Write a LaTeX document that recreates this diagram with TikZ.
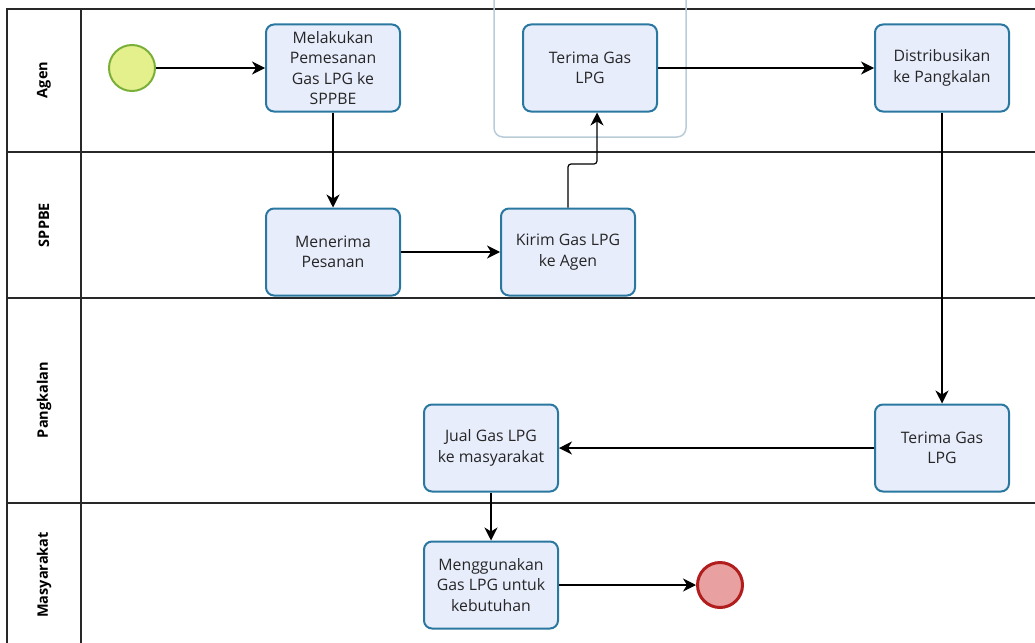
\documentclass[tikz,border=0pt]{standalone}
\usepackage{fontspec}
\setmainfont{Open Sans}
\usetikzlibrary{arrows.meta,positioning}
\definecolor{taskfill}{RGB}{232,237,252}
\definecolor{taskline}{RGB}{42,120,160}
\definecolor{startfill}{RGB}{228,240,140}
\definecolor{startline}{RGB}{122,176,58}
\definecolor{endfill}{RGB}{232,160,160}
\definecolor{endline}{RGB}{178,30,30}
\definecolor{groupline}{RGB}{186,204,216}
\definecolor{poolline}{RGB}{40,40,40}

\begin{document}
\begin{tikzpicture}[x=1pt,y=-1pt,
  task/.style={draw=taskline, fill=taskfill, line width=2pt, rounded corners=8pt,
    minimum width=134pt, minimum height=87pt, inner sep=0pt, align=center,
    font=\fontsize{15.8}{20.5}\selectfont, text=black!85},
  lane/.style={rotate=90, font=\bfseries\fontsize{14.5}{16}\selectfont},
  pool/.style={draw=poolline, line width=1.4pt},
  flow/.style={line width=1.2pt, -{Stealth[length=13pt,width=13pt,inset=4pt]}},
  startev/.style={circle, draw=startline, fill=startfill, line width=2pt, minimum size=46pt},
  endev/.style={circle, draw=endline, fill=endfill, line width=3pt, minimum size=45pt}]
  \useasboundingbox (0,0) rectangle (1035,642);
  \clip (0,0) rectangle (1035,642);

  % pools and lanes
  \draw[pool] (1040,9) -- (7,9) -- (7,650);
  \draw[pool] (81,9) -- (81,650);
  \draw[pool] (7,152) -- (1040,152);
  \draw[pool] (7,298) -- (1040,298);
  \draw[pool, line width=2.4pt] (7,503) -- (1040,503);
  \node[lane] (agen) at (44,80) {Agen};
  \node[lane] (sppbe) at (44,225) {SPPBE};
  \node[lane] (pangkalan) at (44,400) {Pangkalan};
  \node[lane] (masyarakat) at (44,575) {Masyarakat};

  % group round the receiving task
  \draw[groupline, line width=1.5pt, rounded corners=9pt] (494,-20) rectangle (686,137);

  % Agen
  \node[startev] (start) at (132,68) {};
  \node[task] (pesan) at (333,68) {Melakukan\\Pemesanan\\Gas LPG ke\\SPPBE};
  \node[task] (terimaA) at (590,68) {Terima Gas\\LPG};
  \node[task] (distrib) at (942,68) {Distribusikan\\ke Pangkalan};

  % SPPBE
  \node[task] (menerima) at (333,252) {Menerima\\Pesanan};
  \node[task] (kirim) at (568,252) {Kirim Gas LPG\\ke Agen};

  % Pangkalan
  \node[task] (terimaP) at (942,448) {Terima Gas\\LPG};
  \node[task] (jual) at (491,448) {Jual Gas LPG\\ke masyarakat};

  % Masyarakat
  \node[task] (pakai) at (491,585) {Menggunakan\\Gas LPG untuk\\kebutuhan};
  \node[endev] (stop) at (720,585) {};

  % flows
  \coordinate (jog) at (597,164);
  \draw[flow] (start) -- (pesan);
  \draw[flow] (pesan) -- (menerima);
  \draw[flow] (menerima) -- (kirim);
  \draw[flow, rounded corners=3pt] (kirim.north) |- (jog) -- (jog |- terimaA.south);
  \draw[flow] (terimaA) -- (distrib);
  \draw[flow] (distrib) -- (terimaP);
  \draw[flow] (terimaP) -- (jual);
  \draw[flow] (jual) -- (pakai);
  \draw[flow] (pakai) -- (stop);
\end{tikzpicture}
\end{document}
